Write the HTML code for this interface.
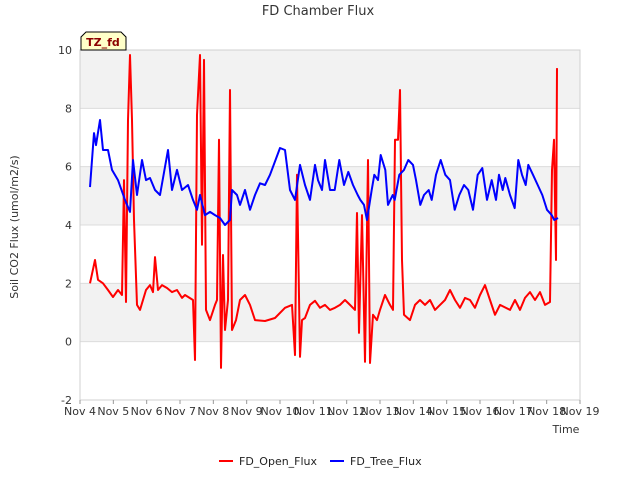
<!DOCTYPE html>
<html><head><meta charset="utf-8"><style>
body{margin:0;background:#fff;font-family:"Liberation Sans","DejaVu Sans",sans-serif}
svg text{font-family:"DejaVu Sans","Liberation Sans",sans-serif}
</style></head><body>
<svg id="c" width="640" height="480">
<text x="318" y="15" text-anchor="middle" font-size="13" fill="#333">FD Chamber Flux</text>
<g id="plot"></g>
<text transform="translate(18,227) rotate(-90)" text-anchor="middle" font-size="11" fill="#333">Soil CO2 Flux (umol/m2/s)</text>
<text x="566" y="433" text-anchor="middle" font-size="11" fill="#333">Time</text>
<g>
<path d="M81,50 L81,37 L86,32 L121,32 L126,37 L126,50 Z" fill="#ffffc8" stroke="#000" stroke-width="1"/>
<text x="103" y="46" text-anchor="middle" font-size="11" font-weight="bold" fill="#8b0000">TZ_fd</text>
</g>
<g>
<g><line x1="219" y1="461" x2="233" y2="461" stroke="#f00" stroke-width="2"/><text x="239" y="465" font-size="11" fill="#222">FD_Open_Flux</text></g>
<g><line x1="330" y1="461" x2="344" y2="461" stroke="#00f" stroke-width="2"/><text x="350" y="465" font-size="11" fill="#222">FD_Tree_Flux</text></g>
</g>
</svg>
<script>
const xTickLabels=["Nov 4","Nov 5","Nov 6","Nov 7","Nov 8","Nov 9","Nov 10","Nov 11","Nov 12","Nov 13","Nov 14","Nov 15","Nov 16","Nov 17","Nov 18","Nov 19"];
const yTicks=[-2,0,2,4,6,8,10];
const treeDays=[0.30,0.42,0.48,0.60,0.69,0.84,0.96,1.14,1.35,1.50,1.59,1.71,1.86,1.98,2.10,2.25,2.40,2.64,2.76,2.91,3.06,3.24,3.39,3.51,3.60,3.75,3.90,4.05,4.20,4.35,4.50,4.56,4.71,4.80,4.95,5.10,5.25,5.40,5.55,5.70,6.00,6.15,6.30,6.45,6.60,6.75,6.90,7.05,7.14,7.26,7.35,7.50,7.64,7.78,7.92,8.05,8.19,8.33,8.41,8.52,8.61,8.75,8.83,8.94,9.02,9.16,9.24,9.38,9.44,9.58,9.72,9.85,9.99,10.08,10.21,10.32,10.46,10.55,10.68,10.82,10.96,11.10,11.24,11.38,11.52,11.65,11.79,11.93,12.07,12.21,12.35,12.48,12.57,12.68,12.76,12.90,13.04,13.15,13.26,13.37,13.45,13.59,13.73,13.87,14.01,14.15,14.23,14.34];
const treeFlux=[5.30,7.15,6.74,7.60,6.57,6.57,5.89,5.54,4.86,4.45,6.23,5.03,6.23,5.54,5.61,5.20,5.03,6.57,5.20,5.89,5.20,5.37,4.86,4.52,5.03,4.34,4.45,4.34,4.24,4.00,4.17,5.20,5.03,4.69,5.20,4.52,5.03,5.43,5.37,5.72,6.64,6.57,5.20,4.86,6.06,5.37,4.86,6.06,5.54,5.20,6.23,5.20,5.20,6.23,5.37,5.82,5.37,5.03,4.86,4.69,4.17,5.20,5.72,5.54,6.40,5.89,4.69,5.03,4.86,5.72,5.89,6.23,6.06,5.54,4.69,5.03,5.20,4.86,5.72,6.23,5.72,5.54,4.52,5.03,5.37,5.20,4.52,5.72,5.95,4.86,5.54,4.86,5.72,5.20,5.61,5.03,4.58,6.23,5.72,5.37,6.06,5.72,5.37,5.03,4.52,4.34,4.17,4.24];
const openDays=[0.30,0.45,0.54,0.69,0.84,0.99,1.14,1.26,1.32,1.38,1.44,1.50,1.56,1.62,1.71,1.80,1.98,2.10,2.19,2.25,2.34,2.46,2.61,2.76,2.91,3.06,3.15,3.39,3.45,3.51,3.60,3.66,3.72,3.78,3.90,4.05,4.11,4.17,4.23,4.29,4.35,4.44,4.50,4.56,4.68,4.80,4.95,5.10,5.25,5.55,5.85,6.15,6.36,6.45,6.51,6.60,6.66,6.75,6.90,7.05,7.20,7.35,7.50,7.65,7.80,7.95,8.10,8.25,8.31,8.37,8.46,8.55,8.64,8.70,8.79,8.91,9.00,9.15,9.30,9.39,9.45,9.54,9.60,9.66,9.72,9.90,10.05,10.20,10.35,10.50,10.65,10.80,10.95,11.10,11.25,11.40,11.55,11.70,11.85,12.00,12.15,12.30,12.45,12.60,12.90,13.05,13.20,13.35,13.50,13.65,13.80,13.95,14.10,14.16,14.22,14.28,14.31];
const openFlux=[2.00,2.80,2.12,2.00,1.77,1.53,1.77,1.60,5.54,1.36,7.60,9.83,7.60,4.17,1.26,1.09,1.77,1.94,1.70,2.90,1.77,1.94,1.84,1.70,1.77,1.50,1.60,1.43,-0.63,7.77,9.83,3.32,9.66,1.09,0.74,1.26,1.43,6.92,-0.90,2.97,0.40,1.43,8.63,0.40,0.74,1.43,1.60,1.26,0.74,0.71,0.81,1.16,1.26,-0.46,5.72,-0.52,0.74,0.81,1.26,1.40,1.16,1.26,1.09,1.16,1.26,1.43,1.26,1.09,4.41,0.30,4.34,-0.69,6.23,-0.73,0.92,0.74,1.09,1.60,1.26,1.09,6.92,6.92,8.63,2.80,0.92,0.74,1.26,1.43,1.26,1.43,1.09,1.26,1.43,1.77,1.43,1.16,1.50,1.43,1.16,1.60,1.94,1.43,0.92,1.26,1.09,1.43,1.09,1.50,1.70,1.43,1.70,1.26,1.36,5.89,6.92,2.80,9.38];
const NS="http://www.w3.org/2000/svg";
const L=80,R=580,T=50,B=400;
function xs(d){return L+(R-L)*d/15;}
function ys(v){return B-(B-T)*(v+2)/12;}
const g=document.getElementById('plot');
function mk(t,a,p){const e=document.createElementNS(NS,t);for(const k in a)e.setAttribute(k,a[k]);(p||g).appendChild(e);return e;}
for(let i=0;i<yTicks.length-1;i++){
 const b=mk('rect',{x:L,y:ys(yTicks[i+1]),width:R-L,height:ys(yTicks[i])-ys(yTicks[i+1]),fill:(i%2===1)?'#f2f2f2':'#ffffff'});
 
 
}
yTicks.forEach(v=>{
 const l=mk('line',{x1:L,x2:R,y1:ys(v),y2:ys(v),stroke:'#dcdcdc','stroke-width':1});
 
 
 const t=mk('text',{x:L-8,y:ys(v)+4,'text-anchor':'end','font-size':11,fill:'#333'});
 t.textContent=v;
 
 
});
const fr=mk('rect',{x:L,y:T,width:R-L,height:B-T,fill:'none',stroke:'#d0d0d0'});


xTickLabels.forEach((s,i)=>{
 const x=xs(i);
 const tk=mk('line',{x1:x,x2:x,y1:B,y2:B+4,stroke:'#999'});
 
 
 const t=mk('text',{x:x,y:B+15,'text-anchor':'middle','font-size':11,fill:'#333'});
 t.textContent=s;
 
 
});
function line(dx,dy,col,name){
 const p=dx.map((d,i)=>xs(d).toFixed(1)+','+ys(dy[i]).toFixed(1)).join(' ');
 const e=mk('polyline',{points:p,fill:'none',stroke:col,'stroke-width':2,'stroke-linejoin':'round'});
 
 
}
line(openDays,openFlux,'#ff0000','open-flux-line');
line(treeDays,treeFlux,'#0000ff','tree-flux-line');
</script>
</body></html>
